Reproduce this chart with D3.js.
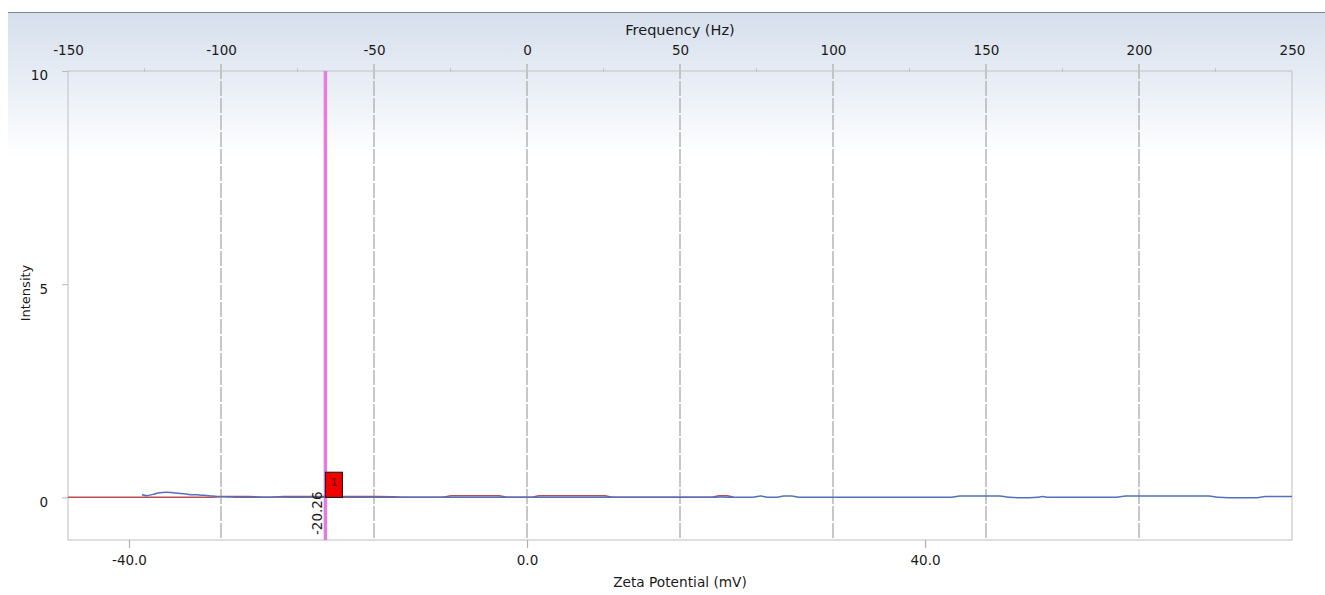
<!DOCTYPE html>
<html>
<head>
<meta charset="utf-8">
<script src="https://cdn.jsdelivr.net/npm/d3@7"></script>
<style>
  html, body { margin: 0; padding: 0; background: #ffffff; }
  svg { display: block; }
  text { font-family: "DejaVu Sans", Verdana, sans-serif; fill: #1a1a1a; }
</style>
</head>
<body>
<svg id="chart" width="1325" height="595"></svg>
<script>
// Axis domains and tick labels
const freqDomain = [-150, 250];
const freqTicks = [-150, -100, -50, 0, 50, 100, 150, 200, 250];
const freqMinorTicks = [-125, -75, -25, 25, 75, 125, 175, 225];
const freqGrid = [-100, -50, 0, 50, 100, 150, 200];
const zetaDomain = [-46.13, 76.88];
const zetaTicks = [-40, 0, 40];
const intensityDomain = [-1, 10];
const intensityTicks = [0, 5, 10];

// Measured distribution (blue) : zeta potential (mV) and intensity
const blueZeta = [-38.7, -38.2, -37.6, -36.9, -36.3, -35.6, -34.8, -34.0, -33.2, -32.4, -31.6, -30.8, -30.0, -29.0,
  -27.0, -25.0, -23.5, -22.0, -20.0, -18.0, -16.0, -14.0, -12.0, -10.0, -8.0, -6.0, -4.0, -2.0, 0.0, 2.0, 4.0, 6.0,
  8.0, 10.0, 12.0, 14.0, 16.0, 18.0, 19.5, 21.0, 22.5, 23.5, 24.3, 25.0, 25.8, 26.6, 27.5, 29.0, 31.0, 33.0, 35.0,
  37.0, 39.0, 41.0, 42.5, 43.5, 44.5, 46.0, 47.5, 48.5, 49.5, 50.5, 51.3, 51.8, 52.4, 53.2, 55.0, 57.0, 59.0, 60.2,
  61.0, 63.0, 65.0, 67.0, 68.5, 69.5, 70.5, 72.0, 73.2, 74.2, 75.2, 76.88];
const blueIntensity = [0.06, 0.04, 0.07, 0.11, 0.12, 0.11, 0.09, 0.07, 0.06, 0.05, 0.03, 0.02, 0.01, 0.0,
  0.0, 0.01, 0.0, 0.0, 0.0, 0.0, 0.0, 0.0, 0.0, 0.0, 0.0, 0.0, 0.0, 0.0, 0.0, 0.0, 0.0, 0.0,
  0.0, 0.0, 0.0, 0.0, 0.0, 0.0, 0.01, 0.0, 0.0, 0.03, 0.0, 0.0, 0.03, 0.03, 0.0, 0.0, 0.0, 0.0, 0.0,
  0.0, 0.0, 0.0, 0.0, 0.03, 0.03, 0.03, 0.03, 0.0, -0.01, -0.01, 0.0, 0.02, 0.0, 0.0, 0.0, 0.0, 0.0, 0.03,
  0.03, 0.03, 0.03, 0.03, 0.03, 0.0, -0.01, -0.01, -0.01, 0.02, 0.02, 0.02];

// Fitted distribution (red) : zeta potential (mV) and intensity
const redZeta = [-46.13, -40.0, -32.0, -30.5, -28.0, -26.0, -24.5, -23.0, -21.0, -19.0, -17.0, -15.0, -13.0, -12.0,
  -10.0, -8.5, -7.6, -5.0, -2.8, -2.0, 0.5, 1.2, 4.0, 7.8, 8.6, 18.6, 19.3, 20.1, 20.8];
const redIntensity = [0.0, 0.0, 0.0, 0.02, 0.02, 0.0, 0.02, 0.02, 0.02, 0.02, 0.02, 0.02, 0.01, 0.0,
  0.0, 0.0, 0.04, 0.04, 0.04, 0.0, 0.0, 0.04, 0.04, 0.04, 0.0, 0.0, 0.04, 0.04, 0.0];

// Peak marker
const peakLabel = ["1"];
const peakZeta = [-20.26];
const peakHeight = [0.59];

const svg = d3.select("#chart");
const plotLeft = 68, plotRight = 1292, plotTop = 71, plotBottom = 540;

// Number formats using a plain hyphen for negative values
const hyphen = s => s.replace("\u2212", "-");
const fmtInt = d => hyphen(d3.format("d")(d));
const fmtOne = d => hyphen(d3.format(".1f")(d));
const fmtTwo = d => hyphen(d3.format(".2f")(d));

const xFreq = d3.scaleLinear().domain(freqDomain).range([plotLeft, plotRight]);
const xZeta = d3.scaleLinear().domain(zetaDomain).range([plotLeft, plotRight]);
const y = d3.scaleLinear().domain(intensityDomain).range([plotBottom, plotTop]);

// Panel header gradient
const defs = svg.append("defs");
const grad = defs.append("linearGradient").attr("id", "hdr").attr("x1", 0).attr("y1", 0).attr("x2", 0).attr("y2", 1);
grad.append("stop").attr("offset", "0%").attr("stop-color", "#d6dfec");
grad.append("stop").attr("offset", "55%").attr("stop-color", "#ebf0f7");
grad.append("stop").attr("offset", "100%").attr("stop-color", "#ffffff");
svg.append("rect").attr("x", 8).attr("y", 12).attr("width", 1317).attr("height", 145).attr("fill", "url(#hdr)");
svg.append("line").attr("x1", 8).attr("x2", 1325).attr("y1", 12.5).attr("y2", 12.5)
  .attr("stroke", "#7d8391").attr("stroke-width", 1);

// Dashed vertical grid at frequency ticks
svg.append("g").selectAll("line").data(freqGrid).join("line")
  .attr("x1", d => xFreq(d)).attr("x2", d => xFreq(d))
  .attr("y1", plotTop - 7).attr("y2", plotBottom)
  .attr("stroke", "#bababa").attr("stroke-width", 1.6)
  .attr("stroke-dasharray", "15,2");

// Plot frame
svg.append("rect").attr("x", plotLeft).attr("y", plotTop).attr("width", plotRight - plotLeft).attr("height", plotBottom - plotTop)
  .attr("fill", "none").attr("stroke", "#c9c9c9").attr("stroke-width", 1.2);

// Top frequency axis
const topAxis = svg.append("g").attr("transform", `translate(0,${plotTop})`)
  .call(d3.axisTop(xFreq).tickValues(freqTicks).tickSize(0).tickPadding(16).tickFormat(fmtInt));
topAxis.select(".domain").remove();
topAxis.selectAll(".tick line").remove();
topAxis.selectAll(".tick text").attr("font-size", 13.5).attr("fill", "#1a1a1a").attr("font-family", "DejaVu Sans");
svg.append("g").selectAll("line").data(freqMinorTicks).join("line")
  .attr("x1", d => xFreq(d)).attr("x2", d => xFreq(d))
  .attr("y1", plotTop - 3).attr("y2", plotTop + 1)
  .attr("stroke", "#c4c4c4").attr("stroke-width", 1);

svg.append("text").attr("x", 680).attr("y", 35).attr("text-anchor", "middle")
  .attr("font-size", 14.5).text("Frequency (Hz)");

// Bottom zeta axis
const botAxis = svg.append("g").attr("transform", `translate(0,${plotBottom})`)
  .call(d3.axisBottom(xZeta).tickValues(zetaTicks).tickSize(8).tickPadding(7).tickFormat(fmtOne));
botAxis.select(".domain").remove();
botAxis.selectAll(".tick line").attr("stroke", "#b0b0b0").attr("stroke-width", 1.2);
botAxis.selectAll(".tick text").attr("font-size", 13.5).attr("fill", "#1a1a1a").attr("font-family", "DejaVu Sans");

svg.append("text").attr("x", 680).attr("y", 587).attr("text-anchor", "middle")
  .attr("font-size", 13.7).text("Zeta Potential (mV)");

// Left intensity axis
const leftAxis = svg.append("g").attr("transform", `translate(${plotLeft},0)`)
  .call(d3.axisLeft(y).tickValues(intensityTicks).tickSize(6).tickPadding(14).tickFormat(fmtInt));
leftAxis.select(".domain").remove();
leftAxis.selectAll(".tick line").attr("stroke", "#b8b8b8").attr("stroke-width", 1);
leftAxis.selectAll(".tick text").attr("font-size", 13.5).attr("fill", "#1a1a1a").attr("dy", "0.66em")
  .attr("font-family", "DejaVu Sans");

svg.append("text").attr("transform", "translate(30,293) rotate(-90)").attr("text-anchor", "middle")
  .attr("font-size", 13).text("Intensity");

// Peak position line
const peakX = xZeta(peakZeta[0]);
svg.append("line").attr("x1", peakX).attr("x2", peakX).attr("y1", plotTop).attr("y2", plotBottom)
  .attr("stroke", "#e37de2").attr("stroke-width", 3.5);

// Distribution curves
const line = d3.line().x(d => xZeta(d[0])).y(d => y(d[1])).curve(d3.curveMonotoneX);
svg.append("path").datum(d3.zip(redZeta, redIntensity)).attr("d", line)
  .attr("fill", "none").attr("stroke", "#b5504e").attr("stroke-width", 1.5);
svg.append("path").datum(d3.zip(blueZeta, blueIntensity)).attr("d", line)
  .attr("fill", "none").attr("stroke", "#5371b8").attr("stroke-width", 1.5);

// Peak value label
svg.append("text").attr("transform", `translate(${peakX - 3},${plotBottom - 5}) rotate(-90)`)
  .attr("text-anchor", "start").attr("font-size", 13.5).text(fmtTwo(peakZeta[0]));

// Peak marker box
const mk = svg.append("g").selectAll("g").data(peakZeta).join("g");
mk.append("rect").attr("x", d => xZeta(d)).attr("y", (d, i) => y(peakHeight[i]))
  .attr("width", 17).attr("height", (d, i) => y(0) - y(peakHeight[i]))
  .attr("fill", "#f20000").attr("stroke", "#111").attr("stroke-width", 1);
mk.append("text").attr("x", d => xZeta(d) + 8.5).attr("y", (d, i) => y(peakHeight[i]) + 14)
  .attr("text-anchor", "middle").attr("font-size", 11).style("fill", "#5a0000").text((d, i) => peakLabel[i]);
</script>
</body>
</html>
